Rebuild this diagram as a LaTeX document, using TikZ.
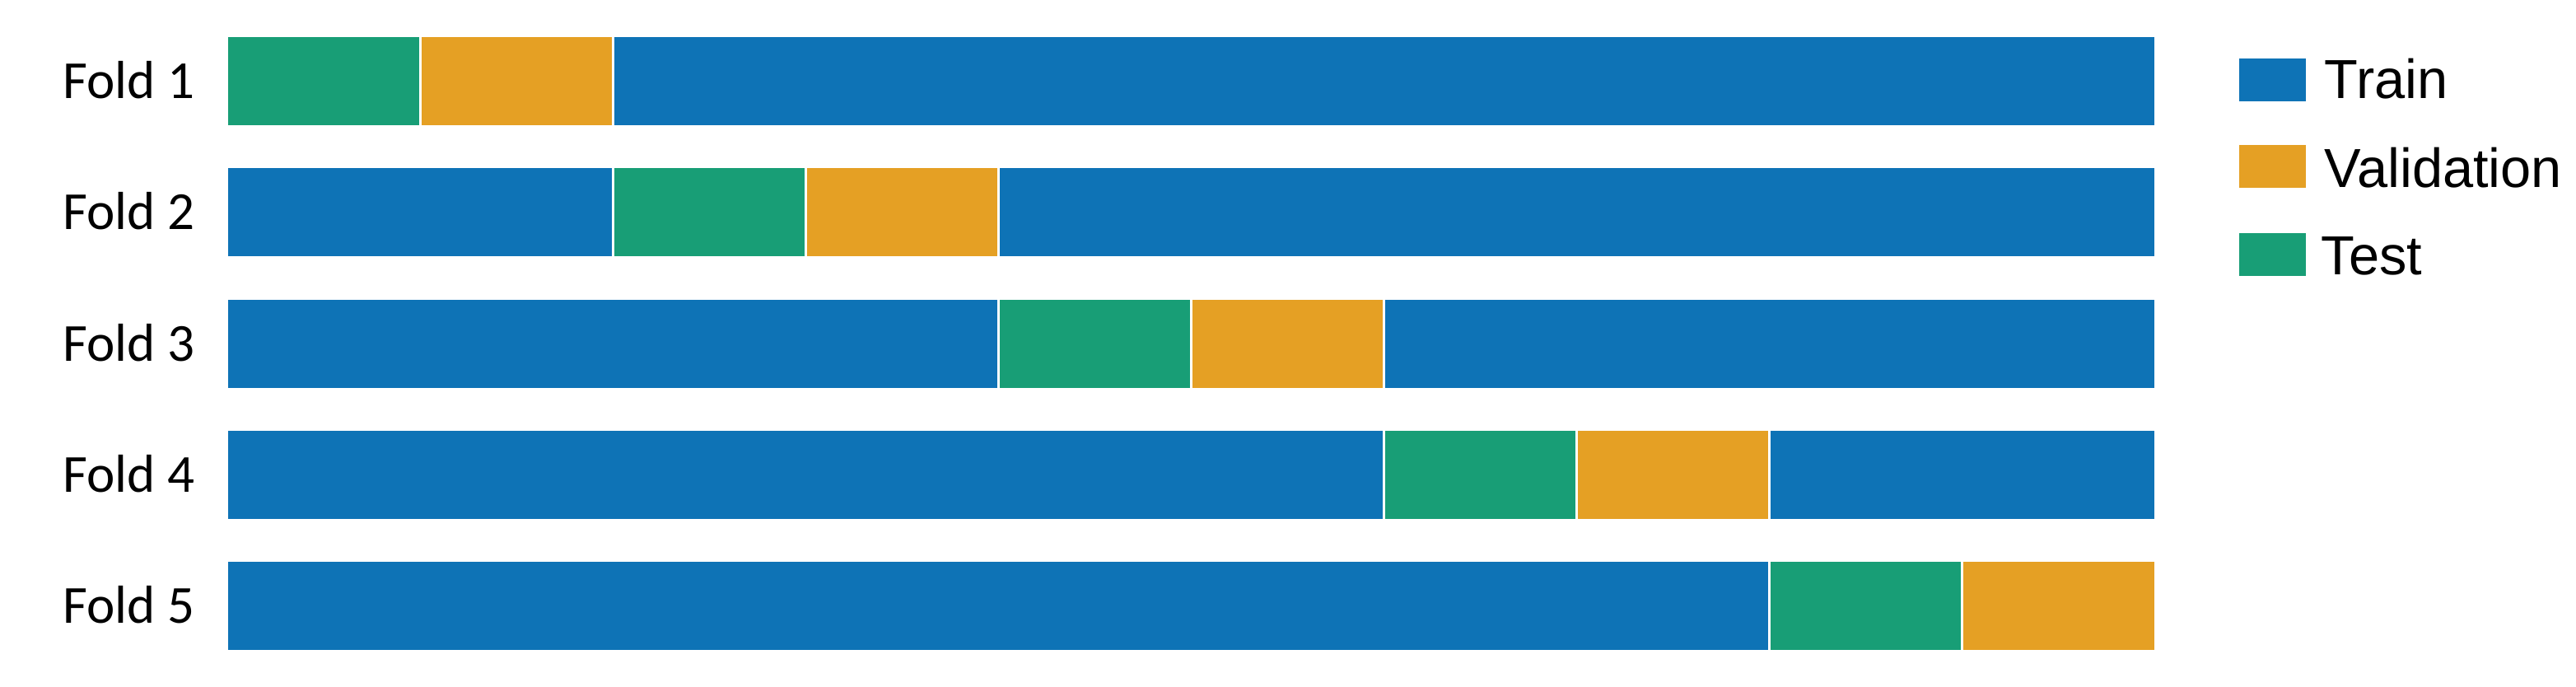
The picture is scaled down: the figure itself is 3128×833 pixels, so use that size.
\documentclass[tikz,border=0pt]{standalone}
\usepackage{fontspec}
\setmainfont{Carlito}
\newfontfamily\legfont{Liberation Sans}
\definecolor{trainc}{HTML}{0E73B6}
\definecolor{valc}{HTML}{E5A024}
\definecolor{testc}{HTML}{189E76}
\tikzset{
  foldlabel/.style={anchor=base east, inner sep=0pt, font=\fontsize{18.5pt}{20pt}\selectfont},
  leglabel/.style={anchor=base west, inner sep=0pt, font=\legfont\fontsize{19pt}{21pt}\selectfont},
  sepline/.style={white, line width=0.3mm}
}
\begin{document}
\begin{tikzpicture}[x=0.1mm,y=-0.1mm]
\useasboundingbox (0,0) rectangle (3128,833);
\foreach \i in {1,...,5}{
  \pgfmathsetmacro\tp{45+(\i-1)*159.25}
  \pgfmathsetmacro\bt{\tp+107}
  \pgfmathsetmacro\xa{277+(\i-1)*2*233.9}
  \pgfmathsetmacro\xb{\xa+233.9}
  \pgfmathsetmacro\xc{\xb+233.9}
  \fill[trainc] (277,\tp) rectangle (2616,\bt);
  \fill[testc] (\xa,\tp) rectangle (\xb,\bt);
  \fill[valc] (\xb,\tp) rectangle (\xc,\bt);
  \ifnum\i>1 \draw[sepline] (\xa,\tp) -- (\xa,\bt); \fi
  \draw[sepline] (\xb,\tp) -- (\xb,\bt);
  \ifnum\i<5 \draw[sepline] (\xc,\tp) -- (\xc,\bt); \fi
  \node[foldlabel] (f\i) at (237,\tp+74.5) {Fold \i};
}
% legend
\fill[trainc] (2719,71) rectangle (2800,123);
\fill[valc] (2719,176) rectangle (2800,228);
\fill[testc] (2719,283) rectangle (2800,335);
\node[leglabel] (ltrain) at (2822,119) {Train};
\node[leglabel] (lval) at (2822,227) {Validation};
\node[leglabel] (ltest) at (2818,333) {Test};
\end{tikzpicture}
\end{document}
